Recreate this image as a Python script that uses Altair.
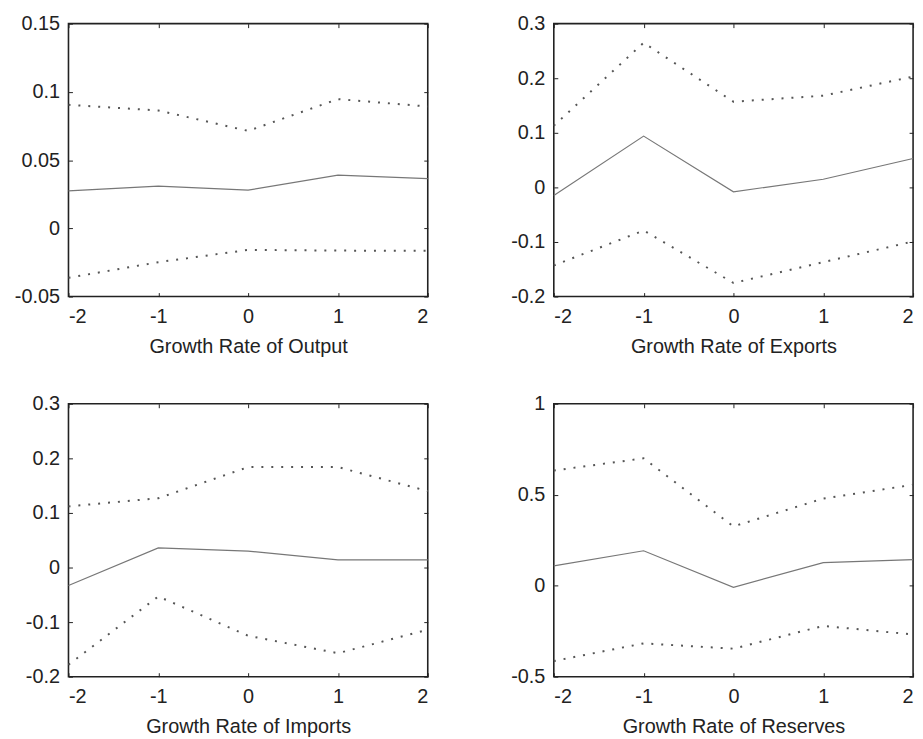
import altair as alt
import pandas as pd

# Horizon (lags/leads)
lags = [-2, -1, 0, 1, 2]

# Panel titles
titles = ["Growth Rate of Output", "Growth Rate of Exports",
          "Growth Rate of Imports", "Growth Rate of Reserves"]

# Point estimates (solid) and bands (dotted)
output_mid = [0.0274, 0.031, 0.028, 0.039, 0.0364]
output_up = [0.0905, 0.0864, 0.0714, 0.0947, 0.0893]
output_lo = [-0.0362, -0.0248, -0.0158, -0.0163, -0.0165]

exports_mid = [-0.015, 0.094, -0.008, 0.015, 0.053]
exports_up = [0.113, 0.265, 0.157, 0.168, 0.203]
exports_lo = [-0.143, -0.079, -0.175, -0.137, -0.099]

imports_mid = [-0.033, 0.036, 0.030, 0.014, 0.014]
imports_up = [0.112, 0.127, 0.184, 0.184, 0.140]
imports_lo = [-0.178, -0.053, -0.125, -0.157, -0.114]

reserves_mid = [0.109, 0.192, -0.009, 0.127, 0.143]
reserves_up = [0.633, 0.700, 0.326, 0.479, 0.555]
reserves_lo = [-0.414, -0.317, -0.346, -0.221, -0.268]

# Axis domains and tick values
y_domains = [[-0.05, 0.15], [-0.2, 0.3], [-0.2, 0.3], [-0.5, 1.0]]
y_ticks = [[-0.05, 0, 0.05, 0.1, 0.15],
           [-0.2, -0.1, 0, 0.1, 0.2, 0.3],
           [-0.2, -0.1, 0, 0.1, 0.2, 0.3],
           [-0.5, 0, 0.5, 1]]
x_ticks = [-2, -1, 0, 1, 2]

FONT = "Liberation Sans"
FS = 20
W, H = 362, 275
TICK = 4


def panel(title, mid, up, lo, ydom, yt):
    mid_df = pd.DataFrame({"x": lags, "y": mid})
    band_df = pd.DataFrame({
        "x": lags + lags,
        "y": up + lo,
        "band": ["upper"] * len(lags) + ["lower"] * len(lags),
    })
    xs = alt.Scale(domain=[-2, 2], nice=False, zero=False)
    ys = alt.Scale(domain=ydom, nice=False, zero=False)

    solid = alt.Chart(mid_df).mark_line(color="#777777", strokeWidth=1.2).encode(
        x=alt.X("x:Q", scale=xs, axis=alt.Axis(
            orient="bottom", values=x_ticks, title=title, offset=-TICK,
            tickSize=TICK, labelPadding=10, titlePadding=10,
            labelExpr="'' + datum.value")),
        y=alt.Y("y:Q", scale=ys, axis=alt.Axis(
            orient="left", values=yt, title=None, offset=-TICK,
            tickSize=TICK, labelPadding=9,
            labelExpr="'' + datum.value")),
    )
    dotted = alt.Chart(band_df).mark_line(
        color="#555555", strokeWidth=2, strokeDash=[2, 8]).encode(
        x=alt.X("x:Q", scale=xs, axis=alt.Axis(
            orient="top", values=x_ticks, title=None, labels=False,
            offset=-TICK, tickSize=TICK)),
        y=alt.Y("y:Q", scale=ys, axis=alt.Axis(
            orient="right", values=yt, title=None, labels=False,
            offset=-TICK, tickSize=TICK)),
        detail="band:N",
    )
    return alt.layer(solid, dotted).resolve_axis(
        x="independent", y="independent").properties(width=W, height=H)


mids = [output_mid, exports_mid, imports_mid, reserves_mid]
ups = [output_up, exports_up, imports_up, reserves_up]
los = [output_lo, exports_lo, imports_lo, reserves_lo]

panels = [panel(titles[i], mids[i], ups[i], los[i], y_domains[i], y_ticks[i])
          for i in range(4)]

chart = alt.concat(
    *panels, columns=2, spacing=alt.RowColnumber(row=36, column=77)
).properties(
    padding={"left": 13, "top": 10, "right": 5, "bottom": 5},
    background="white",
).configure_view(
    stroke="#222222", strokeWidth=1.6
).configure_axis(
    domain=False, grid=False, tickColor="#222222", tickWidth=1,
    labelFont=FONT, labelFontSize=FS, labelColor="#222222",
    titleFont=FONT, titleFontSize=FS, titleColor="#222222",
    titleFontWeight="normal"
)

chart.save("out.html", embed_options={"renderer": "svg", "actions": False})
